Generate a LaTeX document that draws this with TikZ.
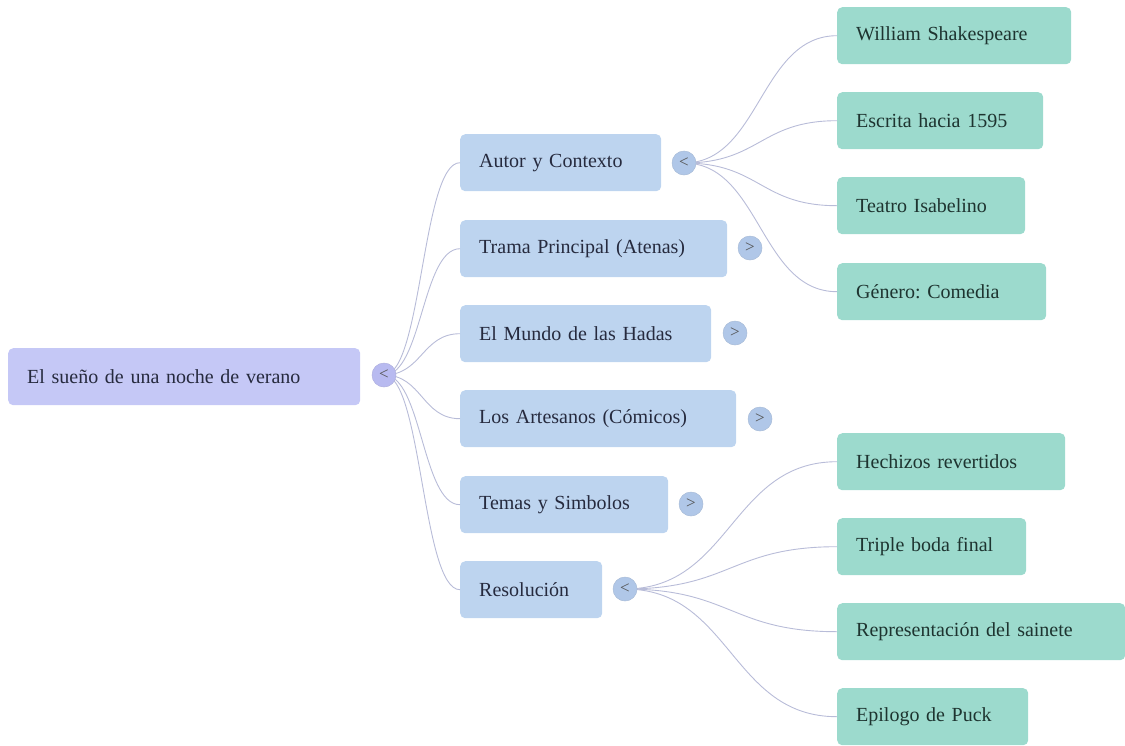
\documentclass[tikz,border=0pt]{standalone}
\usepackage{fontspec}
\setmainfont{Liberation Serif}
\frenchspacing
\definecolor{rootc}{RGB}{197,200,246}
\definecolor{lonec}{RGB}{189,212,239}
\definecolor{ltwoc}{RGB}{156,218,205}
\definecolor{togl}{RGB}{176,199,232}
\definecolor{togr}{RGB}{184,186,240}
\definecolor{edgec}{RGB}{184,188,216}
\definecolor{txtc}{RGB}{38,42,62}
\definecolor{txtg}{RGB}{30,52,48}
\begin{document}
\begin{tikzpicture}[x=1pt,y=-1pt,
  every node/.style={font=\fontsize{20}{23}\selectfont\frenchspacing},
  boxbase/.style={anchor=north west, rounded corners=5pt, minimum height=57pt, inner xsep=19pt, inner ysep=0pt, align=left},
  rootbox/.style={boxbase, fill=rootc, text=txtc},
  onebox/.style={boxbase, fill=lonec, text=txtc},
  twobox/.style={boxbase, fill=ltwoc, text=txtg},
  tog/.style={circle, minimum size=24pt, inner sep=0pt, fill=togl, draw=togl!85!gray, line width=0.5pt, text=gray!65!black, font=\fontsize{17}{17}\selectfont},
  togroot/.style={tog, fill=togr, draw=togr!85!gray},
  lnk/.style={draw=edgec, line width=0.9pt}
]
\useasboundingbox (0,0) rectangle (1125,745);

% root
\node[rootbox, text width=314pt] (root) at (8,348) {El sueño de una noche de verano};

% level 1
\node[onebox, text width=163pt] (a) at (460,134) {Autor y Contexto};
\node[onebox, text width=229pt] (b) at (460,220) {Trama Principal (Atenas)};
\node[onebox, text width=213pt] (c) at (460,305) {El Mundo de las Hadas};
\node[onebox, text width=238pt] (d) at (460,390) {Los Artesanos (Cómicos)};
\node[onebox, text width=170pt] (e) at (460,476) {Temas y Simbolos};
\node[onebox, text width=104pt] (f) at (460,561) {Resolución};

% level 2
\node[twobox, text width=196pt] (a1) at (837,7) {William Shakespeare};
\node[twobox, text width=168pt] (a2) at (837,92) {Escrita hacia 1595};
\node[twobox, text width=150pt] (a3) at (837,177) {Teatro Isabelino};
\node[twobox, text width=171pt] (a4) at (837,263) {Género: Comedia};
\node[twobox, text width=190pt] (f1) at (837,433) {Hechizos revertidos};
\node[twobox, text width=151pt] (f2) at (837,518) {Triple boda final};
\node[twobox, text width=250pt] (f3) at (837,603) {Representación del sainete};
\node[twobox, text width=153pt] (f4) at (837,688) {Epilogo de Puck};

% toggle positions
\coordinate (tr) at (384,375);
\coordinate (ta) at (684,163);
\coordinate (tb) at (750,248);
\coordinate (tc) at (735,333);
\coordinate (td) at (760,419);
\coordinate (te) at (691,504);
\coordinate (tf) at (625,589);

% links root -> level1
\foreach \n in {a,b,c,d,e,f}{
  \draw[lnk] (tr) .. controls (422,375) and (422,0 |- \n.west) .. (\n.west);
}
% links a -> children
\foreach \n in {a1,a2,a3,a4}{
  \draw[lnk] (ta) .. controls (760,163) and (760,0 |- \n.west) .. (\n.west);
}
\foreach \n in {f1,f2,f3,f4}{
  \draw[lnk] (tf) .. controls (731,589) and (731,0 |- \n.west) .. (\n.west);
}

% toggles
\node[togroot] (xr) at (tr) {<};
\node[tog] (xa) at (ta) {<};
\node[tog] (xb) at (tb) {>};
\node[tog] (xc) at (tc) {>};
\node[tog] (xd) at (td) {>};
\node[tog] (xe) at (te) {>};
\node[tog] (xf) at (tf) {<};
\end{tikzpicture}
\end{document}
